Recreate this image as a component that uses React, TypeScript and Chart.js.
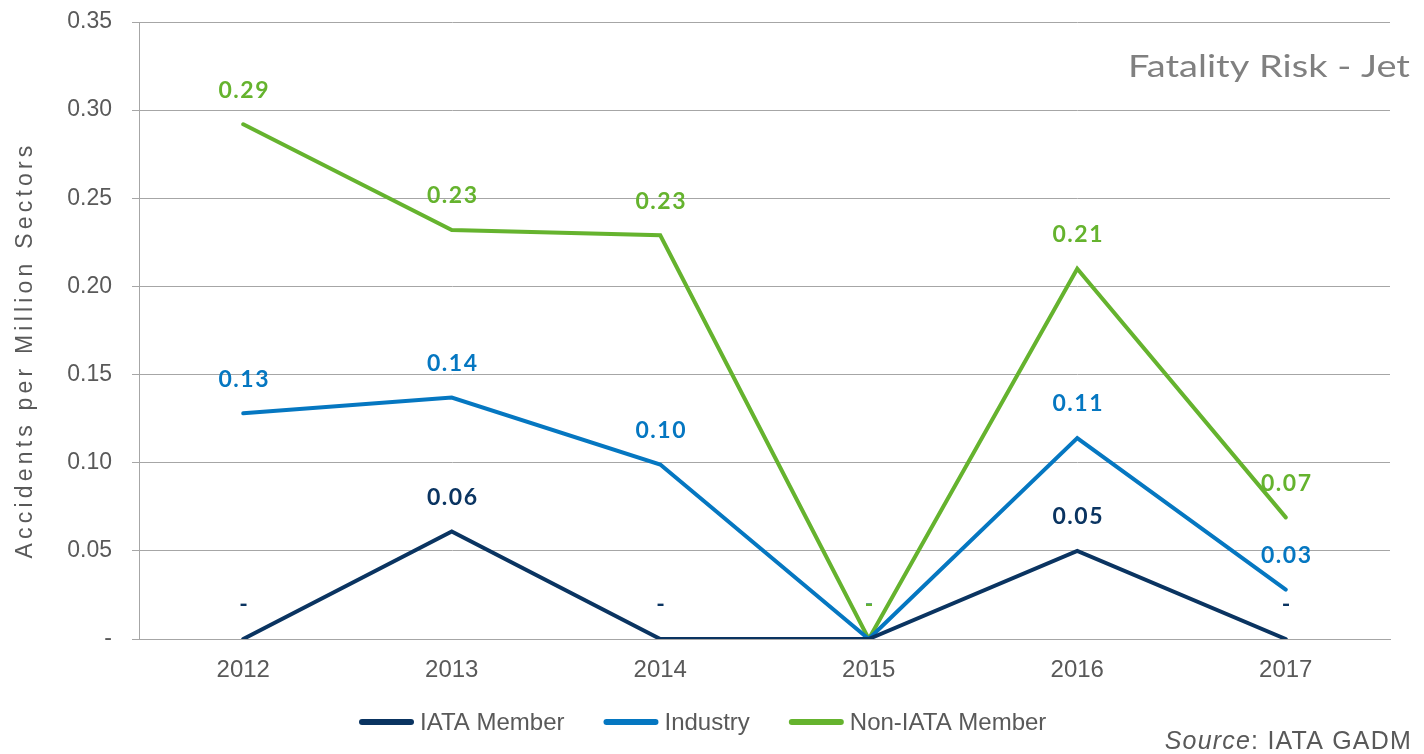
import React, { useEffect, useRef } from "react";
import { Chart, registerables } from "chart.js";

Chart.register(...registerables);

const years = ["2012", "2013", "2014", "2015", "2016", "2017"];
const iataMember = [0, 0.061, 0, 0, 0.05, 0];
const industry = [0.128, 0.137, 0.099, 0, 0.114, 0.028];
const nonIataMember = [0.292, 0.232, 0.229, 0, 0.21, 0.069];
const seriesNames = ["IATA Member", "Industry", "Non-IATA Member"];
const seriesColors = ["#0a3461", "#0577c1", "#65b32e"];
const yTicks = [0, 0.05, 0.1, 0.15, 0.2, 0.25, 0.3, 0.35];
const chartTitle = "Fatality Risk - Jet";
const yTitle = "Accidents per Million Sectors";

const GRAY = "#595959";
const ARIAL = "'Liberation Sans', Arial, sans-serif";

const labelPlugin = {
  id: "valueLabels",
  afterDatasetsDraw(chart: any) {
    const ctx = chart.ctx;
    ctx.save();
    ctx.font = "bold 23px Lato, 'Open Sans', sans-serif";
    try {
      (ctx as any).letterSpacing = "1.5px";
    } catch (e) {}
    ctx.textAlign = "center";
    ctx.textBaseline = "middle";
    chart.data.datasets.forEach((ds: any, di: number) => {
      const meta = chart.getDatasetMeta(di);
      meta.data.forEach((pt: any, i: number) => {
        const v = ds.data[i] as number;
        const txt = v === 0 ? "-" : v.toFixed(2);
        ctx.fillStyle = ds.borderColor;
        ctx.fillText(txt, pt.x + 1, pt.y - 34);
      });
    });
    ctx.restore();
  },
};

const decorPlugin = {
  id: "decor",
  afterDraw(chart: any) {
    const ctx = chart.ctx;
    const w = chart.width;
    const h = chart.height;

    // title (stretched to the reference width)
    ctx.save();
    ctx.font = "30px Lato, 'Open Sans', sans-serif";
    ctx.fillStyle = "#808080";
    ctx.textBaseline = "alphabetic";
    ctx.textAlign = "left";
    const tw = ctx.measureText(chartTitle).width;
    const targetW = 282;
    ctx.translate(w - 14 - targetW, 77);
    ctx.scale(targetW / tw, 1);
    ctx.fillText(chartTitle, 0, 0);
    ctx.restore();

    // source
    ctx.save();
    ctx.fillStyle = GRAY;
    ctx.textBaseline = "alphabetic";
    ctx.textAlign = "left";
    const restTxt = ": IATA GADM";
    const sp = 1.2;
    try {
      (ctx as any).letterSpacing = sp + "px";
    } catch (e) {}
    ctx.font = "italic 25px " + ARIAL;
    const w1 = ctx.measureText("Source").width;
    ctx.font = "25px " + ARIAL;
    const w2 = ctx.measureText(restTxt).width;
    const sx = w - 12 - w1 - w2;
    ctx.font = "italic 25px " + ARIAL;
    ctx.fillText("Source", sx, h - 5);
    ctx.font = "25px " + ARIAL;
    ctx.fillText(restTxt, sx + w1, h - 5);
    ctx.restore();

    // legend
    ctx.save();
    let lx = 359;
    const ly = 722;
    chart.data.datasets.forEach((ds: any) => {
      ctx.strokeStyle = ds.borderColor;
      ctx.lineWidth = 6;
      ctx.lineCap = "round";
      ctx.beginPath();
      ctx.moveTo(lx + 3, ly);
      ctx.lineTo(lx + 52, ly);
      ctx.stroke();
      lx += 61;
      ctx.font = "24px " + ARIAL;
      ctx.fillStyle = GRAY;
      ctx.textBaseline = "middle";
      ctx.textAlign = "left";
      const tw2 = ctx.measureText(ds.label).width;
      ctx.fillText(ds.label, lx, ly + 1);
      lx += tw2 + 39;
    });
    ctx.restore();

    // y title
    ctx.save();
    ctx.fillStyle = GRAY;
    ctx.translate(26, 350);
    ctx.rotate(-Math.PI / 2);
    ctx.font = "23px " + ARIAL;
    try {
      (ctx as any).letterSpacing = "4.2px";
    } catch (e) {}
    ctx.textAlign = "center";
    ctx.textBaseline = "middle";
    ctx.fillText(yTitle, 0, 0);
    ctx.restore();
  },
};

export default function App() {
  const ref = useRef<HTMLCanvasElement>(null);
  useEffect(() => {
    if (!ref.current) return;
    const values = [iataMember, industry, nonIataMember];
    const chart = new Chart(ref.current, {
      type: "line",
      data: {
        labels: years,
        datasets: values.map((d, i) => ({
          label: seriesNames[i],
          data: d,
          borderColor: seriesColors[i],
          backgroundColor: seriesColors[i],
          borderWidth: 4,
          pointRadius: 0,
          tension: 0,
          fill: false,
          borderCapStyle: "round" as const,
        })),
      },
      options: {
        animation: false,
        responsive: false,
        layout: { padding: { top: 22, right: 34, bottom: 52, left: 0 } },
        plugins: {
          tooltip: { enabled: false },
          title: { display: false },
          legend: { display: false },
        },
        scales: {
          x: {
            offset: true,
            grid: { display: false, drawTicks: false },
            border: { display: true, color: "#a6a6a6", width: 1 },
            ticks: {
              color: GRAY,
              padding: 17,
              font: { size: 24, family: ARIAL },
            },
            afterFit: (s: any) => {
              s.height = 63;
              s.paddingLeft = 0;
              s.paddingRight = 0;
            },
          },
          y: {
            min: 0,
            max: 0.35,
            afterBuildTicks: (s: any) => {
              s.ticks = yTicks.map((v) => ({ value: v }));
            },
            grid: { color: "#a6a6a6", lineWidth: 1, tickLength: 7 },
            border: { display: true, color: "#a6a6a6", width: 1 },
            ticks: {
              color: GRAY,
              padding: 20,
              font: { size: 23, family: ARIAL },
              callback: (v: any) => (Number(v) === 0 ? "-" : Number(v).toFixed(2)),
            },
            afterFit: (s: any) => {
              s.width = 139;
              s.paddingTop = 0;
              s.paddingBottom = 0;
            },
          },
        },
      },
      plugins: [labelPlugin, decorPlugin],
    });
    return () => chart.destroy();
  }, []);
  return (
    <div style={{ position: "fixed", left: 0, top: 0, width: 1424, height: 754, background: "#fff" }}>
      <canvas ref={ref} width={1424} height={754} style={{ width: 1424, height: 754 }} />
    </div>
  );
}
